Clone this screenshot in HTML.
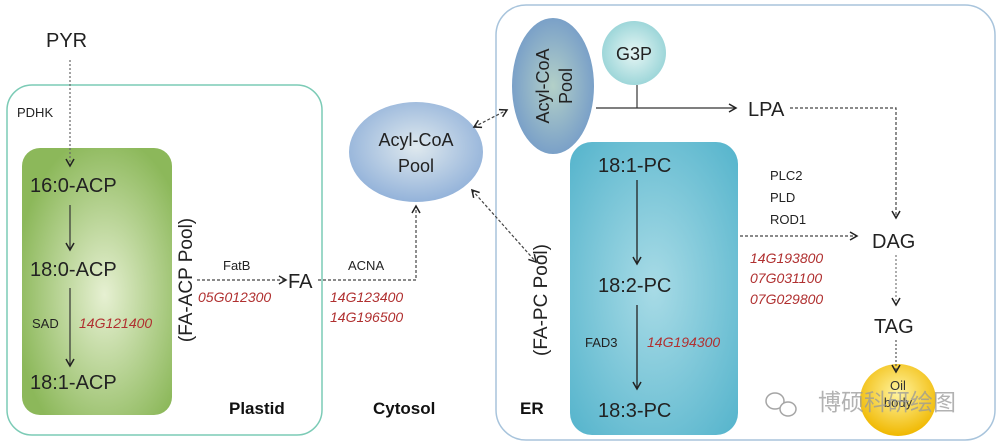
<!DOCTYPE html>
<html><head><meta charset="utf-8"><style>
body{margin:0;background:#fff;}
svg{display:block;font-family:"Liberation Sans","Noto Sans CJK SC",sans-serif;}
.r{fill:#b03030;font-style:italic;font-size:14px;}
.s{font-size:13px;fill:#222;}
.b{font-size:20px;fill:#222;}
.h{font-size:17px;font-weight:bold;fill:#111;}
</style></head><body>
<svg width="1001" height="445" viewBox="0 0 1001 445">
<defs>
<radialGradient id="g" cx="0.55" cy="0.55" r="0.6"><stop offset="0" stop-color="#e6f0d2"/><stop offset="1" stop-color="#8cb85a"/></radialGradient>
<radialGradient id="bl" cx="0.5" cy="0.5" r="0.7"><stop offset="0" stop-color="#a8dbe6"/><stop offset="1" stop-color="#55b4cc"/></radialGradient>
<radialGradient id="ac" cx="0.5" cy="0.45" r="0.6"><stop offset="0" stop-color="#dfe9ee"/><stop offset="1" stop-color="#8daed8"/></radialGradient>
<radialGradient id="ac2" cx="0.5" cy="0.5" r="0.6"><stop offset="0" stop-color="#b3d0c8"/><stop offset="1" stop-color="#6f97c8"/></radialGradient>
<radialGradient id="gp" cx="0.5" cy="0.5" r="0.6"><stop offset="0" stop-color="#e6f6f4"/><stop offset="1" stop-color="#8fd0d4"/></radialGradient>
<radialGradient id="oil" cx="0.5" cy="0.4" r="0.6"><stop offset="0" stop-color="#fff4a0"/><stop offset="1" stop-color="#f0b800"/></radialGradient>
<marker id="a" markerWidth="10" markerHeight="10" refX="8" refY="5" orient="auto" markerUnits="userSpaceOnUse"><path d="M1,1 L8,5 L1,9" fill="none" stroke="#222" stroke-width="1.5"/></marker>
<marker id="as" markerWidth="10" markerHeight="10" refX="2" refY="5" orient="auto" markerUnits="userSpaceOnUse"><path d="M9,1 L2,5 L9,9" fill="none" stroke="#222" stroke-width="1.5"/></marker>
</defs>
<rect x="7" y="85" width="315" height="350" rx="25" fill="none" stroke="#7ccbb6" stroke-width="1.5"/>
<rect x="496" y="5" width="499" height="435" rx="30" fill="none" stroke="#a8c4dc" stroke-width="1.5"/>
<rect x="22" y="148" width="150" height="267" rx="18" fill="url(#g)"/>
<rect x="570" y="142" width="168" height="293" rx="22" fill="url(#bl)"/>
<text x="46" y="47" class="b">PYR</text>
<line x1="70" y1="60" x2="70" y2="166" stroke="#666" stroke-dasharray="2,2" stroke-width="1.2" marker-end="url(#a)"/>
<text x="17" y="117" class="s">PDHK</text>
<text x="30" y="192" class="b">16:0-ACP</text>
<text x="30" y="276" class="b">18:0-ACP</text>
<text x="30" y="389" class="b">18:1-ACP</text>
<line x1="70" y1="205" x2="70" y2="250" stroke="#333" stroke-width="1.2" marker-end="url(#a)"/>
<line x1="70" y1="288" x2="70" y2="366" stroke="#333" stroke-width="1.2" marker-end="url(#a)"/>
<text x="32" y="328" class="s">SAD</text>
<text x="79" y="328" class="r">14G121400</text>
<text transform="translate(192,280) rotate(-90)" text-anchor="middle" font-size="19" fill="#222">(FA-ACP Pool)</text>
<text x="223" y="270" class="s">FatB</text>
<line x1="197" y1="280" x2="286" y2="280" stroke="#444" stroke-dasharray="3,2" stroke-width="1.2" marker-end="url(#a)"/>
<text x="288" y="288" class="b">FA</text>
<text x="198" y="302" class="r">05G012300</text>
<text x="348" y="270" class="s">ACNA</text>
<polyline points="318,280 416,280 416,206" fill="none" stroke="#444" stroke-dasharray="3,2" stroke-width="1.2" marker-end="url(#a)"/>
<text x="330" y="302" class="r">14G123400</text>
<text x="330" y="322" class="r">14G196500</text>
<ellipse cx="416" cy="152" rx="67" ry="50" fill="url(#ac)"/>
<text x="416" y="146" text-anchor="middle" font-size="18" fill="#222">Acyl-CoA</text>
<text x="416" y="172" text-anchor="middle" font-size="18" fill="#222">Pool</text>
<text x="229" y="414" class="h">Plastid</text>
<text x="373" y="414" class="h">Cytosol</text>
<line x1="474" y1="127" x2="507" y2="110" stroke="#444" stroke-dasharray="3,2" stroke-width="1.2" marker-end="url(#a)" marker-start="url(#as)"/>
<line x1="472" y1="190" x2="536" y2="262" stroke="#444" stroke-dasharray="3,2" stroke-width="1.2" marker-end="url(#a)" marker-start="url(#as)"/>
<ellipse cx="553" cy="86" rx="41" ry="68" fill="url(#ac2)"/>
<text transform="translate(553,86) rotate(-90)" text-anchor="middle" font-size="18" fill="#222"><tspan x="0" y="-4">Acyl-CoA</tspan><tspan x="0" y="19">Pool</tspan></text>
<circle cx="634" cy="53" r="32" fill="url(#gp)"/>
<text x="634" y="60" text-anchor="middle" font-size="18" fill="#222">G3P</text>
<line x1="637" y1="85" x2="637" y2="108" stroke="#333" stroke-width="1.2"/>
<line x1="596" y1="108" x2="736" y2="108" stroke="#333" stroke-width="1.2" marker-end="url(#a)"/>
<text x="748" y="116" class="b">LPA</text>
<polyline points="790,108 896,108 896,218" fill="none" stroke="#444" stroke-dasharray="3,2" stroke-width="1.2" marker-end="url(#a)"/>
<text x="598" y="172" class="b">18:1-PC</text>
<text x="598" y="292" class="b">18:2-PC</text>
<text x="598" y="417" class="b">18:3-PC</text>
<line x1="637" y1="180" x2="637" y2="264" stroke="#222" stroke-width="1.3" marker-end="url(#a)"/>
<line x1="637" y1="305" x2="637" y2="389" stroke="#222" stroke-width="1.3" marker-end="url(#a)"/>
<text x="585" y="347" class="s">FAD3</text>
<text x="647" y="347" class="r">14G194300</text>
<text transform="translate(547,300) rotate(-90)" text-anchor="middle" font-size="19" fill="#222">(FA-PC Pool)</text>
<text x="520" y="414" class="h">ER</text>
<text x="770" y="180" class="s">PLC2</text>
<text x="770" y="202" class="s">PLD</text>
<text x="770" y="224" class="s">ROD1</text>
<line x1="740" y1="236" x2="857" y2="236" stroke="#444" stroke-dasharray="3,2" stroke-width="1.2" marker-end="url(#a)"/>
<text x="750" y="263" class="r">14G193800</text>
<text x="750" y="283" class="r">07G031100</text>
<text x="750" y="304" class="r">07G029800</text>
<text x="872" y="248" class="b">DAG</text>
<line x1="896" y1="255" x2="896" y2="305" stroke="#777" stroke-dasharray="2,2" stroke-width="1.2" marker-end="url(#a)"/>
<text x="874" y="333" class="b">TAG</text>
<ellipse cx="898" cy="400" rx="38" ry="36" fill="url(#oil)"/>
<line x1="896" y1="340" x2="896" y2="372" stroke="#555" stroke-dasharray="2,2" stroke-width="1.2" marker-end="url(#a)"/>
<text x="898" y="390" text-anchor="middle" font-size="13" fill="#333">Oil</text>
<text x="898" y="407" text-anchor="middle" font-size="13" fill="#333">body</text>
<g opacity="0.75">
<ellipse cx="775" cy="401" rx="9" ry="8" fill="none" stroke="#888" stroke-width="1.5"/>
<ellipse cx="788" cy="409" rx="8" ry="7" fill="#fff" stroke="#888" stroke-width="1.5"/>
<text x="818" y="410" font-size="23" fill="#999" font-family="'Noto Sans CJK SC',sans-serif">博硕科研绘图</text>
</g>
</svg>
</body></html>
